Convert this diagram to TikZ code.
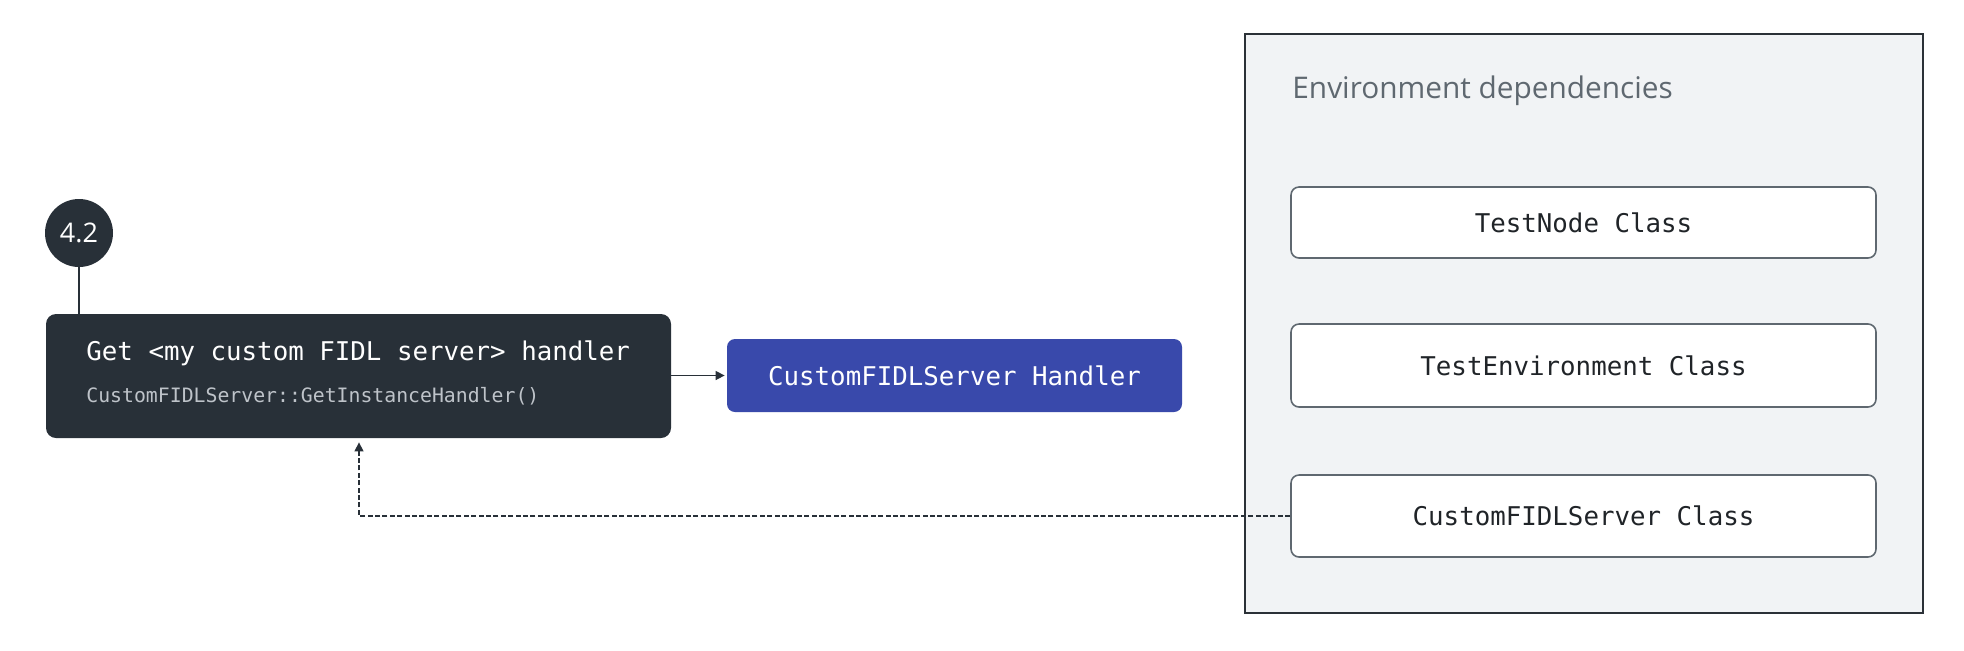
\documentclass[tikz,border=0pt]{standalone}
\usepackage{fontspec}
\usetikzlibrary{arrows.meta,calc}
\newfontfamily\monof{DejaVu Sans Mono}
\newfontfamily\sansf{Open Sans}
\definecolor{darkbox}{HTML}{283038}
\definecolor{indigo}{HTML}{3949AB}
\definecolor{envfill}{HTML}{F1F3F5}
\definecolor{envline}{HTML}{2B3137}
\definecolor{boxline}{HTML}{5F6870}
\definecolor{txtdark}{HTML}{202428}
\definecolor{txtgray}{HTML}{5F6870}
\definecolor{subgray}{HTML}{BEC3C9}
\tikzset{
  stepnum/.style={circle,fill=darkbox,minimum size=34pt,inner sep=0pt,text=white,font=\sansf\fontsize{13.5}{13.5}\selectfont},
  darkrect/.style={rectangle,rounded corners=5pt,fill=darkbox,minimum width=312.5pt,minimum height=62pt,inner sep=0pt},
  bluerect/.style={rectangle,rounded corners=4pt,fill=indigo,minimum width=227.5pt,minimum height=36.5pt,inner sep=0pt,text=white,font=\monof\fontsize{12.9}{14}\selectfont},
  envrect/.style={rectangle,fill=envfill,draw=envline,line width=1pt,minimum width=339pt,minimum height=289.5pt,inner sep=0pt},
  classrect/.style={rectangle,rounded corners=4pt,fill=white,draw=boxline,line width=0.8pt,minimum width=292.5pt,inner sep=0pt,text=txtdark,font=\monof\fontsize{12.9}{14}\selectfont},
  conn/.style={draw=darkbox,line width=0.75pt},
  tip/.style={-{Triangle[length=4.5pt,width=4.5pt]}}
}
\begin{document}
\begin{tikzpicture}[x=0.5pt,y=-0.5pt]
\useasboundingbox (0,0) rectangle (1964,650);
% environment container
\node[envrect] (env) at (1584,323.5) {};
\node[anchor=west,inner sep=0pt,text=txtgray,font=\sansf\fontsize{14.9}{16}\selectfont] (envlbl) at (1292,90.5) {Environment dependencies};
\node[classrect,minimum height=35.5pt] (tn) at (1583.5,222.5) {TestNode Class};
\node[classrect,minimum height=41.5pt] (te) at (1583.5,365.5) {\raisebox{-1.2pt}{TestEnvironment Class}};
\node[classrect,minimum height=41pt] (cf) at (1583.5,516) {\raisebox{-1.2pt}{CustomFIDLServer Class}};
% left
\node[darkrect] (g) at (358.5,376) {};
\node[anchor=west,inner sep=0pt,text=white,font=\monof\fontsize{12.9}{14}\selectfont] (gt) at (86,353.5) {Get <my custom FIDL server> handler};
\node[anchor=west,inner sep=0pt,text=subgray,font=\monof\fontsize{9.9}{11}\selectfont] (gs) at (86,396.5) {CustomFIDLServer::GetInstanceHandler()};
\node[stepnum] (c) at (79,233) {4.2};
\draw[conn] (c.south) -- (c.south |- g.north);
\node[bluerect] (h) at (954.5,375.5) {\raisebox{-0.6pt}{CustomFIDLServer Handler}};
\draw[conn,tip] (g.east |- h.west) -- ([xshift=-1pt]h.west);
\coordinate (turn) at (359,516);
\draw[conn,tip,dash pattern=on 2.5pt off 1.2pt] (cf.west) -- (turn) -- ([yshift=-2pt]turn |- g.south);
\end{tikzpicture}
\end{document}
